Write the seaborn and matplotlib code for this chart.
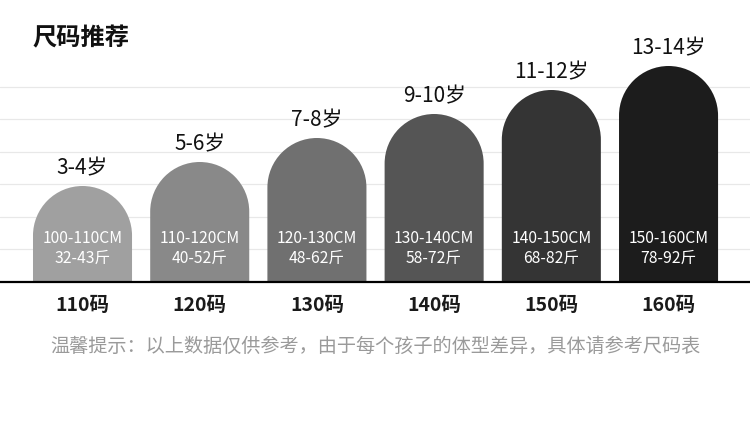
import matplotlib
matplotlib.use("Agg")
import matplotlib.pyplot as plt
from matplotlib.patches import PathPatch
from matplotlib.path import Path
import numpy as np
import pandas as pd
import seaborn as sns

sizes = ["110码", "120码", "130码", "140码", "150码", "160码"]
ages = ["3-4岁", "5-6岁", "7-8岁", "9-10岁", "11-12岁", "13-14岁"]
body_heights = ["100-110CM", "110-120CM", "120-130CM", "130-140CM", "140-150CM", "150-160CM"]
body_weights = ["32-43斤", "40-52斤", "48-62斤", "58-72斤", "68-82斤", "78-92斤"]
bar_values = [4, 5, 6, 7, 8, 9]
bar_colors = ["#a0a0a0", "#898989", "#707070", "#555555", "#343434", "#1c1c1c"]

W, H = 750, 426
sns.set_theme(style="white")
plt.rcParams["font.family"] = ["Noto Sans CJK SC", "DejaVu Sans"]

df = pd.DataFrame({"size": sizes, "value": bar_values})

fig = plt.figure(figsize=(W / 100, H / 100), dpi=100)
ax_bottom, ax_top = 282, 40  # pixel rows from the top
ax = fig.add_axes([0, (H - ax_bottom) / H, 1, (ax_bottom - ax_top) / H])

sns.barplot(data=df, x="size", y="value", hue="size", palette=bar_colors,
            legend=False, width=0.845, linewidth=0, saturation=1, ax=ax)

ax.set_xlim(-0.704, 5.695)
ax.set_ylim(0, (ax_bottom - ax_top) / 24)

# replace each rectangle by a dome-topped shape (one path, no seam)
px_x = W / (ax.get_xlim()[1] - ax.get_xlim()[0])
px_y = (ax_bottom - ax_top) / (ax.get_ylim()[1] - ax.get_ylim()[0])
arc = Path.arc(0, 180)
bars = list(ax.patches)
for patch in bars:
    x0, w, h = patch.get_x(), patch.get_width(), patch.get_height()
    r_y = (w * px_x / 2) / px_y
    xc, yc = x0 + w / 2, h - r_y
    arc_xy = np.column_stack([xc + arc.vertices[:, 0] * w / 2, yc + arc.vertices[:, 1] * r_y])
    verts = [(x0 + w, 0), (x0 + w, yc)] + [tuple(v) for v in arc_xy[1:]] + [(x0, 0), (x0 + w, 0)]
    codes = [Path.MOVETO, Path.LINETO] + list(arc.codes[1:]) + [Path.LINETO, Path.CLOSEPOLY]
    patch.set_visible(False)
    ax.add_patch(PathPatch(Path(verts, codes), facecolor=patch.get_facecolor(), linewidth=0))

for i, patch in enumerate(bars):
    xc = patch.get_x() + patch.get_width() / 2
    ax.annotate(ages[i], (xc, bar_values[i]), xytext=(0, 13), textcoords="offset points",
                ha="center", va="center", fontsize=15, color="#111111")
    ax.annotate(body_heights[i], (xc, 0), xytext=(0, 31), textcoords="offset points",
                ha="center", va="center", fontsize=11.3, color="white")
    ax.annotate(body_weights[i], (xc, 0), xytext=(0, 17), textcoords="offset points",
                ha="center", va="center", fontsize=11.3, color="white")

ax.set_yticks(np.arange(1, 7) * 1.355)
ax.set_yticklabels([])
ax.yaxis.grid(True, color="#e8e8e8", linewidth=0.9)
ax.set_axisbelow(True)
ax.tick_params(axis="both", length=0)
ax.tick_params(axis="x", pad=10)
for label in ax.get_xticklabels():
    label.set_fontsize(14)
    label.set_fontweight("bold")
    label.set_color("#1a1a1a")
ax.set_xlabel("")
ax.set_ylabel("")
for side in ["top", "left", "right"]:
    ax.spines[side].set_visible(False)
ax.spines["bottom"].set_color("black")
ax.spines["bottom"].set_linewidth(1.6)

fig.text(33 / W, 1 - 38 / H, "尺码推荐", fontsize=17.5, fontweight="bold",
         ha="left", va="center", color="#111111")
fig.text(0.5, 1 - 346 / H, "温馨提示：以上数据仅供参考，由于每个孩子的体型差异，具体请参考尺码表",
         fontsize=13.8, color="#9a9a9a", ha="center", va="center")

fig.savefig("out.png", dpi=100, facecolor="white")
